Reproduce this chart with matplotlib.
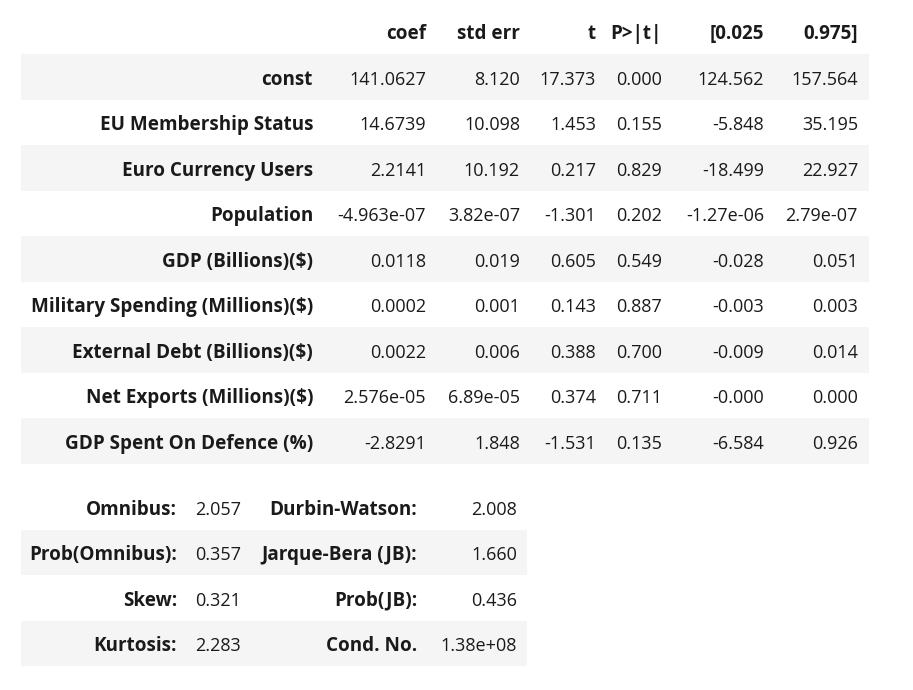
import matplotlib
matplotlib.use("Agg")
from matplotlib import pyplot as plt

plt.rcParams['font.family'] = ['Open Sans', 'DejaVu Sans']

# coefficient table
columns = ["coef", "std err", "t", "P>|t|", "[0.025", "0.975]"]
row_labels = ["const", "EU Membership Status", "Euro Currency Users", "Population",
              "GDP (Billions)($)", "Military Spending (Millions)($)",
              "External Debt (Billions)($)", "Net Exports (Millions)($)",
              "GDP Spent On Defence (%)"]
coef = ["141.0627", "14.6739", "2.2141", "-4.963e-07", "0.0118", "0.0002", "0.0022", "2.576e-05", "-2.8291"]
std_err = ["8.120", "10.098", "10.192", "3.82e-07", "0.019", "0.001", "0.006", "6.89e-05", "1.848"]
t_vals = ["17.373", "1.453", "0.217", "-1.301", "0.605", "0.143", "0.388", "0.374", "-1.531"]
p_vals = ["0.000", "0.155", "0.829", "0.202", "0.549", "0.887", "0.700", "0.711", "0.135"]
ci_low = ["124.562", "-5.848", "-18.499", "-1.27e-06", "-0.028", "-0.003", "-0.009", "-0.000", "-6.584"]
ci_high = ["157.564", "35.195", "22.927", "2.79e-07", "0.051", "0.003", "0.014", "0.000", "0.926"]

# diagnostics table
diag_left_labels = ["Omnibus:", "Prob(Omnibus):", "Skew:", "Kurtosis:"]
diag_left_values = ["2.057", "0.357", "0.321", "2.283"]
diag_right_labels = ["Durbin-Watson:", "Jarque-Bera (JB):", "Prob(JB):", "Cond. No."]
diag_right_values = ["2.008", "1.660", "0.436", "1.38e+08"]

W, H = 913, 690
fig = plt.figure(figsize=(W / 100, H / 100), dpi=100)
ax = fig.add_axes([0, 0, 1, 1])
ax.set_xlim(0, W)
ax.set_ylim(H, 0)
ax.axis('off')

text_color = '#1a1a1a'
shade = '#f5f5f5'
fs_bold = 13.6
fs = 13.0
row_h = 45.5
base = 8  # baseline offset below row centre

def cell(x, yc, s, bold=False):
    ax.text(x, yc + base, s, ha='right', va='baseline',
            fontsize=fs_bold if bold else fs,
            fontweight='bold' if bold else 'normal', color=text_color)

# top table
top_y0 = 54
label_right = 313
col_rights = [426, 520, 596, 662, 764, 858]
for j, c in enumerate(columns):
    cell(col_rights[j], top_y0 - row_h / 2, c, bold=True)
body = [coef, std_err, t_vals, p_vals, ci_low, ci_high]
for i, lab in enumerate(row_labels):
    y = top_y0 + i * row_h
    if i % 2 == 0:
        ax.axhspan(y, y + row_h, xmin=21 / W, xmax=869 / W, color=shade, lw=0, zorder=0)
    yc = y + row_h / 2
    cell(label_right, yc, lab, bold=True)
    for j, col in enumerate(body):
        cell(col_rights[j], yc, col[i])

# bottom table
bot_y0 = 484
bot_rights = [177, 241, 417, 517]
for i in range(len(diag_left_labels)):
    y = bot_y0 + i * row_h
    if i % 2 == 1:
        ax.axhspan(y, y + row_h, xmin=21 / W, xmax=527 / W, color=shade, lw=0, zorder=0)
    yc = y + row_h / 2
    cell(bot_rights[0], yc, diag_left_labels[i], bold=True)
    cell(bot_rights[1], yc, diag_left_values[i])
    cell(bot_rights[2], yc, diag_right_labels[i], bold=True)
    cell(bot_rights[3], yc, diag_right_values[i])

fig.savefig("out.png", dpi=100, facecolor='white')
